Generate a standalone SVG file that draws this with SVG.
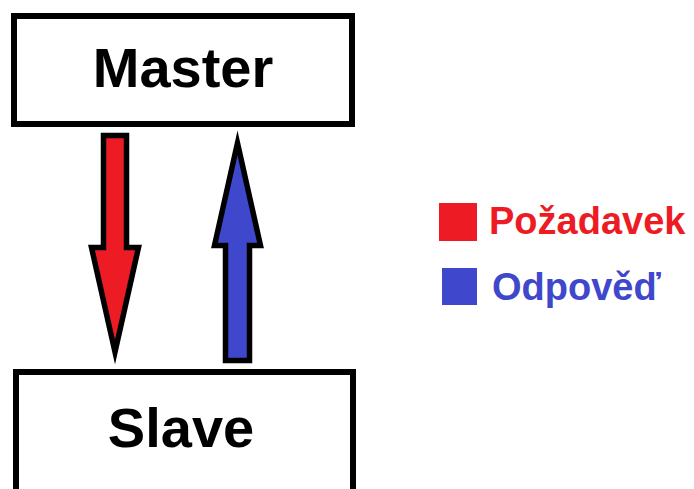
<svg xmlns="http://www.w3.org/2000/svg" width="694" height="489" viewBox="0 0 694 489">
<style>
.box{fill:#fff;stroke:#000;stroke-width:6}
.lbl{font-family:"Liberation Sans",Arial,sans-serif;font-weight:bold;font-size:56px;fill:#000;text-anchor:middle}
.leg{font-family:"Liberation Sans",Arial,sans-serif;font-weight:bold;font-size:38px}
.arr{stroke:#000;stroke-width:5.5;stroke-linejoin:miter;stroke-miterlimit:10}
</style>
<rect width="694" height="489" fill="#fff"/>
<g id="master">
<rect class="box" x="14" y="16" width="338" height="108"/>
<text class="lbl" x="183" y="87">Master</text>
</g>
<g id="slave">
<rect class="box" x="16" y="372" width="337" height="200"/>
<text class="lbl" x="181" y="447">Slave</text>
</g>
<g id="connectors">
<polygon class="arr" fill="#ED1C24" points="103.5,135.5 126.5,135.5 126.5,247.5 138.5,247.5 115,352 91.5,247.5 103.5,247.5"/>
<polygon class="arr" fill="#3F48CC" points="237.5,143 260.5,245.5 249.5,245.5 249.5,360.5 225.5,360.5 225.5,245.5 214.5,245.5"/>
</g>
<g id="legend">
<rect x="439" y="203" width="38" height="38" fill="#ED1C24"/>
<text class="leg" x="489" y="234" fill="#ED1C24">Požadavek</text>
<rect x="442" y="268" width="35" height="37" fill="#3F48CC"/>
<text class="leg" x="492" y="300" fill="#3F48CC">Odpověď</text>
</g>
</svg>
